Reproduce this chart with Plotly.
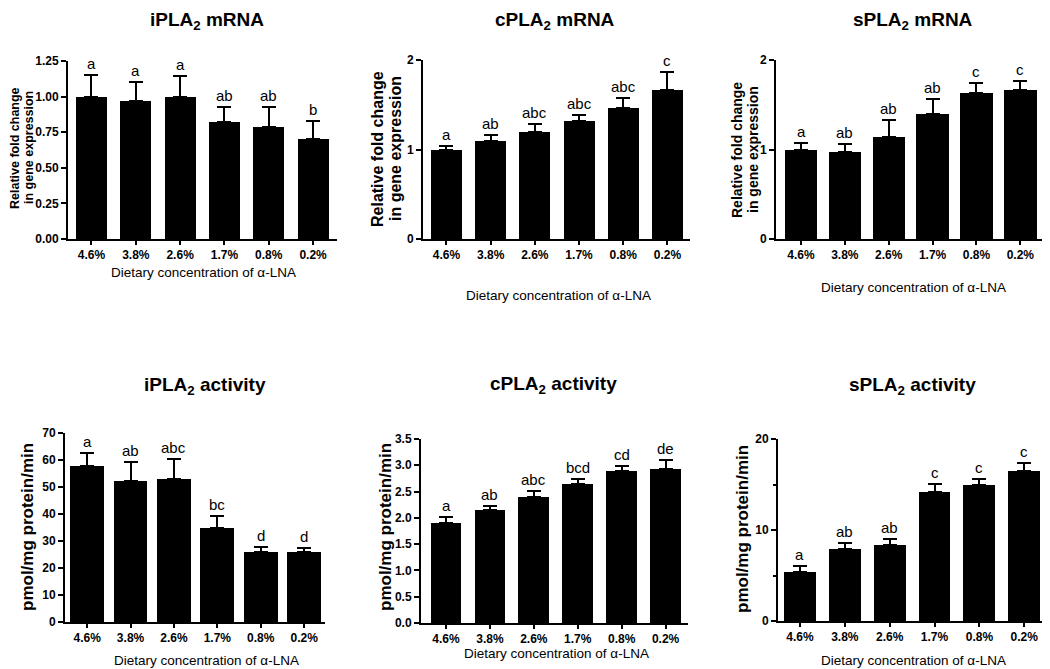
import plotly.graph_objects as go

# reference canvas and page offset (browser body margin)
W, H = 1050, 669
OX, OY = 8, 8
WF, HF = W - OX, H - OY

categories = ["4.6%", "3.8%", "2.6%", "1.7%", "0.8%", "0.2%"]

ipla2_mrna = [1.00, 0.97, 1.00, 0.82, 0.79, 0.70]
ipla2_mrna_err = [0.15, 0.135, 0.145, 0.11, 0.14, 0.13]
ipla2_mrna_lbl = ["a", "a", "a", "ab", "ab", "b"]

cpla2_mrna = [1.00, 1.10, 1.20, 1.315, 1.46, 1.67]
cpla2_mrna_err = [0.035, 0.06, 0.09, 0.067, 0.115, 0.2]
cpla2_mrna_lbl = ["a", "ab", "abc", "abc", "abc", "c"]

spla2_mrna = [1.00, 0.97, 1.14, 1.40, 1.635, 1.67]
spla2_mrna_err = [0.07, 0.095, 0.19, 0.16, 0.11, 0.10]
spla2_mrna_lbl = ["a", "ab", "ab", "ab", "c", "c"]

ipla2_act = [57.6, 52.3, 53.0, 34.8, 26.0, 26.0]
ipla2_act_err = [5.0, 7.1, 7.2, 4.6, 1.8, 1.4]
ipla2_act_lbl = ["a", "ab", "abc", "bc", "d", "d"]

cpla2_act = [1.90, 2.15, 2.39, 2.65, 2.90, 2.92]
cpla2_act_err = [0.115, 0.07, 0.12, 0.085, 0.085, 0.19]
cpla2_act_lbl = ["a", "ab", "abc", "bcd", "cd", "de"]

spla2_act = [5.4, 7.9, 8.3, 14.2, 14.9, 16.5]
spla2_act_err = [0.6, 0.7, 0.7, 0.9, 0.7, 0.9]
spla2_act_lbl = ["a", "ab", "ab", "c", "c", "c"]

mrna_ytitle = ["Relative fold change", "in gene expression"]
act_ytitle = ["pmol/mg protein/min"]

panels = [
    dict(title="iPLA<sub>2</sub> mRNA", y=ipla2_mrna, e=ipla2_mrna_err, lbl=ipla2_mrna_lbl,
         px=(68, 337), py=(61, 239), xr=(-0.53, 5.54), yr=(0, 1.25), dtick=0.25, fmt=".2f",
         bw=0.70, tx=207, ty=None, ytitle=mrna_ytitle,
         ytx=[15, 29], yty=148, ytsize=12.5, xtt_x=203, xtt_y=273),
    dict(title="cPLA<sub>2</sub> mRNA", y=cpla2_mrna, e=cpla2_mrna_err, lbl=cpla2_mrna_lbl,
         px=(423, 690), py=(60, 239), xr=(-0.53, 5.51), yr=(0, 2), dtick=1, fmt="d",
         bw=0.70, tx=555, ty=None, ytitle=mrna_ytitle,
         ytx=[378, 396], yty=149, ytsize=16, xtt_x=558, xtt_y=295),
    dict(title="sPLA<sub>2</sub> mRNA", y=spla2_mrna, e=spla2_mrna_err, lbl=spla2_mrna_lbl,
         px=(776, 1044), py=(60, 239), xr=(-0.57, 5.54), yr=(0, 2), dtick=1, fmt="d",
         bw=0.74, tx=913, ty=None, ytitle=mrna_ytitle,
         ytx=[737, 753], yty=150, ytsize=14, xtt_x=913, xtt_y=287),
    dict(title="iPLA<sub>2</sub> activity", y=ipla2_act, e=ipla2_act_err, lbl=ipla2_act_lbl,
         px=(65, 325), py=(433, 622), xr=(-0.51, 5.48), yr=(0, 70), dtick=10, fmt="d",
         bw=0.78, tx=205, ty=386, ytitle=act_ytitle,
         ytx=[27], yty=527, ytsize=17, xtt_x=206, xtt_y=660),
    dict(title="cPLA<sub>2</sub> activity", y=cpla2_act, e=cpla2_act_err, lbl=cpla2_act_lbl,
         px=(421, 688), py=(439, 623), xr=(-0.57, 5.51), yr=(0, 3.5), dtick=0.5, fmt=".1f",
         bw=0.70, tx=553, ty=385, ytitle=act_ytitle,
         ytx=[385], yty=527, ytsize=17, xtt_x=556, xtt_y=653),
    dict(title="sPLA<sub>2</sub> activity", y=spla2_act, e=spla2_act_err, lbl=spla2_act_lbl,
         px=(778, 1048), py=(439, 621), xr=(-0.49, 5.53), yr=(0, 20), dtick=10, fmt="d",
         bw=0.71, tx=912, ty=386, ytitle=act_ytitle,
         ytx=[742], yty=529, ytsize=17, xtt_x=913, xtt_y=660, minor=5),
]


def fx(px):
    return (px - OX) / WF


def fy(py):
    return 1 - (py - OY) / HF


FONT = "Liberation Sans, Arial, sans-serif"
fig = go.Figure()
annotations = []
layout = {}

for i, p in enumerate(panels):
    n = "" if i == 0 else str(i + 1)
    xa, ya = "x" + n, "y" + n
    xpos = list(range(len(categories)))
    fig.add_trace(go.Bar(
        x=xpos, y=p["y"], width=p["bw"], xaxis=xa, yaxis=ya,
        marker=dict(color="black", line=dict(width=0)),
        error_y=dict(type="data", symmetric=False, array=p["e"],
                     arrayminus=[0] * len(p["e"]), color="black", thickness=2, width=7),
        showlegend=False, hoverinfo="skip",
    ))
    xd = [fx(p["px"][0]), fx(p["px"][1])]
    yd = [fy(p["py"][1]), fy(p["py"][0])]
    xaxis = dict(domain=xd, range=list(p["xr"]), anchor=ya, tickmode="array",
                 tickvals=xpos, ticktext=categories, showline=True, linecolor="black",
                 linewidth=2, ticks="outside", ticklen=4, tickwidth=1.5, tickcolor="black",
                 showgrid=False, zeroline=False, fixedrange=True, automargin=False,
                 tickfont=dict(family=FONT, size=12, color="black", weight="bold"))
    yaxis = dict(domain=yd, range=list(p["yr"]), anchor=xa, dtick=p["dtick"], tick0=0,
                 showline=True, linecolor="black", linewidth=2, ticks="outside",
                 ticklen=5, tickwidth=2, tickcolor="black", showgrid=False, zeroline=False,
                 tickformat=p["fmt"], fixedrange=True, automargin=False,
                 tickfont=dict(family=FONT, size=12, color="black", weight="bold"))
    if p.get("minor"):
        yaxis["minor"] = dict(dtick=p["minor"], ticks="outside", ticklen=3, tickwidth=2,
                              tickcolor="black", showgrid=False)
    layout["xaxis" + n] = xaxis
    layout["yaxis" + n] = yaxis

    # significance letters
    for xi, (v, e, l) in enumerate(zip(p["y"], p["e"], p["lbl"])):
        annotations.append(dict(x=xi, y=v + e, xref=xa, yref=ya, text=l, showarrow=False,
                                yanchor="bottom", yshift=1,
                                font=dict(family=FONT, size=15, color="black")))
    # panel title
    if p["ty"] is None:
        ty, tya = 1.0, "top"
    else:
        ty, tya = fy(p["ty"]), "middle"
    annotations.append(dict(x=fx(p["tx"]), y=ty, xref="paper", yref="paper",
                            text="<b>" + p["title"] + "</b>", showarrow=False,
                            xanchor="center", yanchor=tya, borderpad=0,
                            font=dict(family=FONT, size=19, color="black")))
    # y title (one annotation per line)
    for line, lx in zip(p["ytitle"], p["ytx"]):
        annotations.append(dict(x=fx(lx), y=fy(p["yty"]), xref="paper", yref="paper",
                                text="<b>" + line + "</b>", showarrow=False, textangle=-90,
                                xanchor="center", yanchor="middle", borderpad=0,
                                font=dict(family=FONT, size=p["ytsize"], color="black")))
    # x title
    annotations.append(dict(x=fx(p["xtt_x"]), y=fy(p["xtt_y"]),
                            xref="paper", yref="paper",
                            text="Dietary concentration of \u03b1-LNA", showarrow=False,
                            xanchor="center", yanchor="middle",
                            font=dict(family=FONT, size=13.5, color="black")))

fig.update_layout(
    template="none",
    width=WF, height=HF, margin=dict(l=0, r=0, t=0, b=0, autoexpand=False),
    paper_bgcolor="white", plot_bgcolor="white",
    annotations=annotations, bargap=0, **layout,
)

fig.write_html("out.html")
